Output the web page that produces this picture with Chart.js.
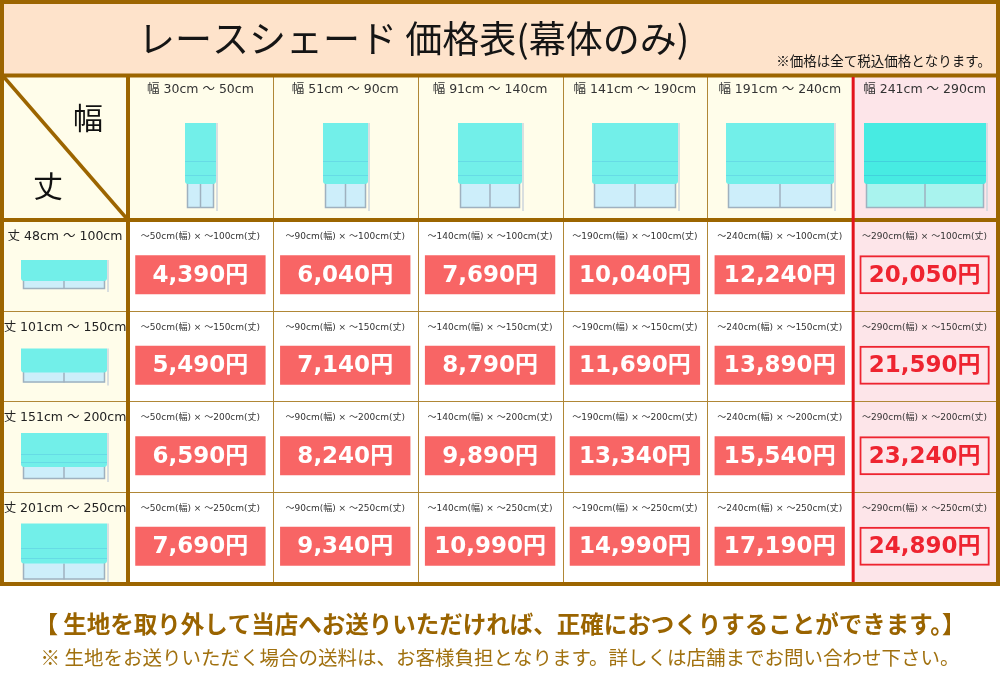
<!DOCTYPE html>
<html>
<head>
<meta charset="utf-8">
<script src="https://cdn.jsdelivr.net/npm/chart.js@4.4.1/dist/chart.umd.min.js"></script>
<style>
  html, body { margin: 0; padding: 0; background: #ffffff; }
  #wrap { width: 1000px; height: 678px; }
</style>
</head>
<body>
<div id="wrap"><canvas id="priceChart" width="1000" height="678"></canvas></div>
<script>
// Table data
const widthLabels = ['幅 30cm ～ 50cm', '幅 51cm ～ 90cm', '幅 91cm ～ 140cm', '幅 141cm ～ 190cm', '幅 191cm ～ 240cm', '幅 241cm ～ 290cm'];
const heightLabels = ['丈 48cm ～ 100cm', '丈 101cm ～ 150cm', '丈 151cm ～ 200cm', '丈 201cm ～ 250cm'];
const widthMax = [50, 90, 140, 190, 240, 290];
const heightMax = [100, 150, 200, 250];
const prices = [
  [4390, 6040, 7690, 10040, 12240, 20050],
  [5490, 7140, 8790, 11690, 13890, 21590],
  [6590, 8240, 9890, 13340, 15540, 23240],
  [7690, 9340, 10990, 14990, 17190, 24890]
];
const titleText = 'レースシェード 価格表(幕体のみ)';
const taxNote = '※価格は全て税込価格となります。';
const footLine1 = '【 生地を取り外して当店へお送りいただければ、正確におつくりすることができます。】';
const footLine2 = '※ 生地をお送りいただく場合の送料は、お客様負担となります。詳しくは店舗までお問い合わせ下さい。';

const BROWN = '#9c6500';
const THIN = '#b08736';
const RED = '#e3141c';
const LATIN = '"DejaVu Sans", "Noto Sans CJK JP", sans-serif';
const JP = '"Noto Sans CJK JP", sans-serif';
const lastCol = widthLabels.length - 1;

// header icon widths and left-column icon sizes (drawing only)
const headIconW = [31, 45, 64, 86, 108, 122];
const sideIcon = [
  { top: 40, shade: 21, win: 8 },
  { top: 38, shade: 24, win: 10 },
  { top: 32, shade: 34, win: 12 },
  { top: 32, shade: 40, win: 16 }
];

function fmt(n) {
  return n.toLocaleString('en-US') + '円';
}

function drawShade(ctx, cx, top, w, shadeH, winH, bright) {
  const x = Math.round(cx - w / 2);
  const bottom = top + shadeH;
  // window behind
  ctx.fillStyle = bright ? '#a9f3ee' : '#cdeefa';
  ctx.fillRect(x + 2, bottom - 2, w - 4, winH + 2);
  ctx.strokeStyle = '#9fb1bf';
  ctx.lineWidth = 1.5;
  ctx.strokeRect(x + 2.5, bottom - 2, w - 5, winH + 1.5);
  ctx.beginPath();
  ctx.moveTo(x + w / 2, bottom);
  ctx.lineTo(x + w / 2, bottom + winH);
  ctx.stroke();
  // cord
  ctx.strokeStyle = '#cdd4dc';
  ctx.lineWidth = 1.5;
  ctx.beginPath();
  ctx.moveTo(x + w + 1, top);
  ctx.lineTo(x + w + 1, bottom + winH + 3);
  ctx.stroke();
  // shade
  ctx.fillStyle = bright ? '#47ebe2' : '#72efe9';
  ctx.beginPath();
  ctx.roundRect(x, top, w, shadeH, [0, 0, 3, 3]);
  ctx.fill();
  if (shadeH > 30) {
    ctx.strokeStyle = bright ? 'rgba(60,190,215,0.55)' : 'rgba(90,200,225,0.5)';
    ctx.lineWidth = 1;
    [0.62, 0.86].forEach(function(f) {
      const yy = Math.round(top + shadeH * f) + 0.5;
      ctx.beginPath();
      ctx.moveTo(x, yy);
      ctx.lineTo(x + w, yy);
      ctx.stroke();
    });
  }
}

const tablePlugin = {
  id: 'tablePlugin',
  beforeDatasetsDraw(chart) {
    const ctx = chart.ctx;
    const xs = chart.scales.x;
    const ys = chart.scales.y;
    const area = chart.chartArea;
    const colW = (area.right - area.left) / widthLabels.length;
    const colLeft = function(c) { return xs.getPixelForValue(c) - colW / 2; };
    const rowTop = function(r) { return ys.getPixelForValue(r); };

    ctx.save();
    // title bar
    ctx.fillStyle = '#fee3cb';
    ctx.fillRect(0, 0, 1000, 76);
    // header row + left column
    ctx.fillStyle = '#fffdea';
    ctx.fillRect(0, 76, 1000, area.top - 76);
    ctx.fillRect(0, area.top, area.left, area.bottom - area.top);
    // last column pink
    ctx.fillStyle = '#fde5e9';
    ctx.fillRect(colLeft(lastCol), 76, colW + 4, area.bottom - 76);

    // thin grid lines
    ctx.strokeStyle = THIN;
    ctx.lineWidth = 1;
    for (let c = 1; c < widthLabels.length; c++) {
      const xx = Math.round(colLeft(c)) + 0.5;
      ctx.beginPath();
      ctx.moveTo(xx, 76);
      ctx.lineTo(xx, area.bottom);
      ctx.stroke();
    }
    for (let r = 1; r < heightLabels.length; r++) {
      const yy = Math.round(rowTop(r)) + 0.5;
      ctx.beginPath();
      ctx.moveTo(0, yy);
      ctx.lineTo(1000, yy);
      ctx.stroke();
    }

    // header labels and icons
    ctx.textAlign = 'center';
    ctx.textBaseline = 'middle';
    widthLabels.forEach(function(lab, c) {
      const cx = xs.getPixelForValue(c);
      ctx.fillStyle = '#333333';
      ctx.font = '12.5px ' + LATIN;
      ctx.fillText(lab, cx, 90);
      drawShade(ctx, cx, 123, headIconW[c], 61, 24, c === lastCol);
    });

    // left column labels and icons
    heightLabels.forEach(function(lab, r) {
      const top = rowTop(r);
      ctx.fillStyle = '#222222';
      ctx.font = '12.5px ' + LATIN;
      ctx.fillText(lab, area.left / 2 + 1, top + 17);
      const s = sideIcon[r];
      drawShade(ctx, area.left / 2, top + s.top, 86, s.shade, s.win, false);
    });

    // small size label per cell
    ctx.font = '9px ' + LATIN;
    ctx.fillStyle = '#333333';
    for (let r = 0; r < heightMax.length; r++) {
      for (let c = 0; c < widthMax.length; c++) {
        ctx.fillText('～' + widthMax[c] + 'cm(幅) × ～' + heightMax[r] + 'cm(丈)', xs.getPixelForValue(c), rowTop(r) + 17);
      }
    }

    // corner cell
    ctx.strokeStyle = BROWN;
    ctx.lineWidth = 3.5;
    ctx.beginPath();
    ctx.moveTo(3, 76);
    ctx.lineTo(area.left, area.top);
    ctx.stroke();
    ctx.fillStyle = '#111111';
    ctx.font = '30px ' + JP;
    ctx.fillText('幅', 88, 118);
    ctx.fillText('丈', 48, 186);

    // title
    ctx.textAlign = 'left';
    ctx.font = '37px ' + JP;
    ctx.fillStyle = '#151515';
    ctx.fillText(titleText, 138, 39);
    ctx.textAlign = 'right';
    ctx.font = '13.5px ' + JP;
    ctx.fillText(taxNote, 991, 61);

    // thick brown frame
    ctx.strokeStyle = BROWN;
    ctx.lineWidth = 4;
    ctx.strokeRect(2, 2, 996, area.bottom);
    ctx.beginPath();
    ctx.moveTo(0, 75.5); ctx.lineTo(1000, 75.5);
    ctx.moveTo(0, area.top); ctx.lineTo(1000, area.top);
    ctx.moveTo(area.left, 76); ctx.lineTo(area.left, area.bottom);
    ctx.stroke();
    // red divider for last column
    ctx.strokeStyle = RED;
    ctx.lineWidth = 3;
    ctx.beginPath();
    ctx.moveTo(colLeft(lastCol) + 1, 77);
    ctx.lineTo(colLeft(lastCol) + 1, area.bottom);
    ctx.stroke();

    // footer
    ctx.textAlign = 'center';
    ctx.fillStyle = '#9a6400';
    ctx.font = 'bold 23.5px ' + JP;
    ctx.fillText(footLine1, 500, 624);
    ctx.fillStyle = '#a0700e';
    ctx.font = '19.5px ' + JP;
    ctx.fillText(footLine2, 500, 658);
    ctx.restore();
  },
  afterDatasetsDraw(chart) {
    const ctx = chart.ctx;
    ctx.save();
    ctx.textAlign = 'center';
    ctx.textBaseline = 'middle';
    ctx.font = 'bold 23px ' + LATIN;
    chart.data.datasets.forEach(function(ds, r) {
      chart.getDatasetMeta(r).data.forEach(function(bar, c) {
        ctx.fillStyle = c === lastCol ? '#ee2430' : '#ffffff';
        ctx.fillText(fmt(ds.data[c].price), bar.x, (bar.y + bar.base) / 2 + 1);
      });
    });
    ctx.restore();
  }
};

// one floating-bar dataset per height row
const datasets = prices.map(function(row, r) {
  return {
    label: heightLabels[r],
    data: row.map(function(p, c) {
      return { x: widthLabels[c], y: [r + 0.39, r + 0.82], price: p };
    }),
    grouped: false,
    barPercentage: 0.9,
    categoryPercentage: 1.0,
    backgroundColor: row.map(function(p, c) { return c === lastCol ? 'rgba(0,0,0,0)' : '#f86565'; }),
    borderColor: row.map(function(p, c) { return c === lastCol ? '#ee2430' : 'rgba(0,0,0,0)'; }),
    borderWidth: row.map(function(p, c) { return c === lastCol ? 2 : 0; }),
    borderSkipped: false
  };
});

new Chart(document.getElementById('priceChart').getContext('2d'), {
  type: 'bar',
  data: { labels: widthLabels, datasets: datasets },
  options: {
    responsive: false,
    animation: false,
    devicePixelRatio: 1,
    layout: { padding: { left: 128, right: 3, top: 220, bottom: 96 } },
    scales: {
      x: { type: 'category', offset: true, display: false, grid: { display: false } },
      y: { type: 'linear', min: 0, max: 4, reverse: true, display: false, grid: { display: false } }
    },
    plugins: {
      legend: { display: false },
      tooltip: { enabled: false }
    }
  },
  plugins: [tablePlugin]
});
</script>
</body>
</html>
